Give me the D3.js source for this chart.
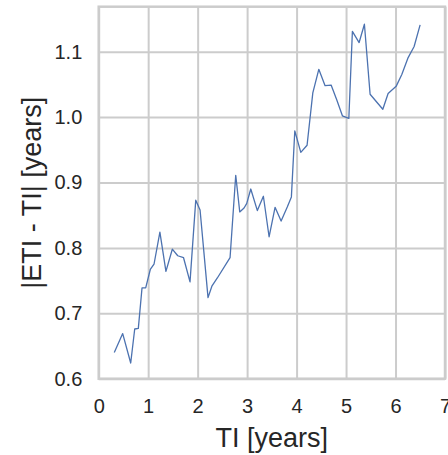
<!DOCTYPE html>
<html>
<head>
<meta charset="utf-8">
<script src="https://cdn.jsdelivr.net/npm/d3@7"></script>
<style>
  body { margin: 0; background: #fff; }
  svg { display: block; font-family: "Liberation Sans", Arial, sans-serif; }
</style>
</head>
<body>
<svg width="448" height="455"></svg>
<script>
// data
var ti = [0.315, 0.485, 0.647, 0.728, 0.801, 0.876, 0.950, 1.043, 1.118, 1.237,
          1.359, 1.488, 1.598, 1.715, 1.846, 1.962, 2.049, 2.210, 2.291, 2.398,
          2.655, 2.770, 2.851, 2.938, 2.993, 3.074, 3.207, 3.329, 3.444, 3.565,
          3.687, 3.814, 3.895, 3.964, 4.085, 4.212, 4.328, 4.449, 4.576, 4.698,
          4.813, 4.926, 5.056, 5.128, 5.264, 5.371, 5.486, 5.743, 5.850, 6.012,
          6.127, 6.255, 6.376, 6.497];
var err = [0.640, 0.669, 0.624, 0.676, 0.677, 0.739, 0.739, 0.767, 0.775, 0.824,
           0.764, 0.798, 0.788, 0.785, 0.748, 0.873, 0.858, 0.724, 0.742, 0.754,
           0.785, 0.911, 0.855, 0.861, 0.868, 0.890, 0.857, 0.879, 0.817, 0.862,
           0.841, 0.863, 0.878, 0.979, 0.946, 0.957, 1.037, 1.073, 1.048, 1.049,
           1.026, 1.002, 0.998, 1.131, 1.114, 1.142, 1.035, 1.012, 1.036, 1.047,
           1.065, 1.091, 1.108, 1.141];
var xTicks = [0, 1, 2, 3, 4, 5, 6, 7];
var yTicks = [0.6, 0.7, 0.8, 0.9, 1.0, 1.1];

var svg = d3.select('svg');
var padL = 98.7, padR = 445, padT = 6.7, padB = 378.7;
var textColor = '#262626';
var gridColor = '#cccccc';

var x = d3.scaleLinear().domain([0, 7]).range([padL, padR]);
var y = d3.scaleLinear().domain([0.6, 1.1688]).range([padB, padT]);

// grid + tick labels
var gx = svg.append('g')
  .attr('transform', 'translate(0,' + padB + ')')
  .call(d3.axisBottom(x).tickValues(xTicks).tickFormat(d3.format('d'))
    .tickSize(-(padB - padT)).tickPadding(20));
var gy = svg.append('g')
  .attr('transform', 'translate(' + padL + ',0)')
  .call(d3.axisLeft(y).tickValues(yTicks).tickFormat(d3.format('.1f'))
    .tickSize(-(padR - padL)).tickPadding(16.4));

[gx, gy].forEach(function(g) {
  g.select('.domain').remove();
  g.attr('font-size', null).attr('font-family', null);
  g.selectAll('line').attr('stroke', gridColor).attr('stroke-width', 2);
  g.selectAll('text')
    .attr('fill', textColor)
    .style('font-size', '20px');
});

// spines
svg.append('rect')
  .attr('x', padL).attr('y', padT)
  .attr('width', padR - padL).attr('height', padB - padT)
  .attr('fill', 'none')
  .attr('stroke', gridColor)
  .attr('stroke-width', 2.5);

// line
var line = d3.line()
  .x(function(d, i) { return x(ti[i]); })
  .y(function(d) { return y(d); });
svg.append('path')
  .datum(err)
  .attr('d', line)
  .attr('fill', 'none')
  .attr('stroke', '#4c72b0')
  .attr('stroke-width', 1.3)
  .attr('stroke-linejoin', 'round');

// axis labels
svg.append('text')
  .attr('x', (padL + padR) / 2).attr('y', 447)
  .attr('text-anchor', 'middle')
  .attr('fill', textColor)
  .style('font-size', '27px')
  .text('TI [years]');
svg.append('text')
  .attr('transform', 'translate(41,' + ((padT + padB) / 2) + ') rotate(-90)')
  .attr('text-anchor', 'middle')
  .attr('fill', textColor)
  .style('font-size', '27px')
  .text('|ETI - TI| [years]');
</script>
</body>
</html>
